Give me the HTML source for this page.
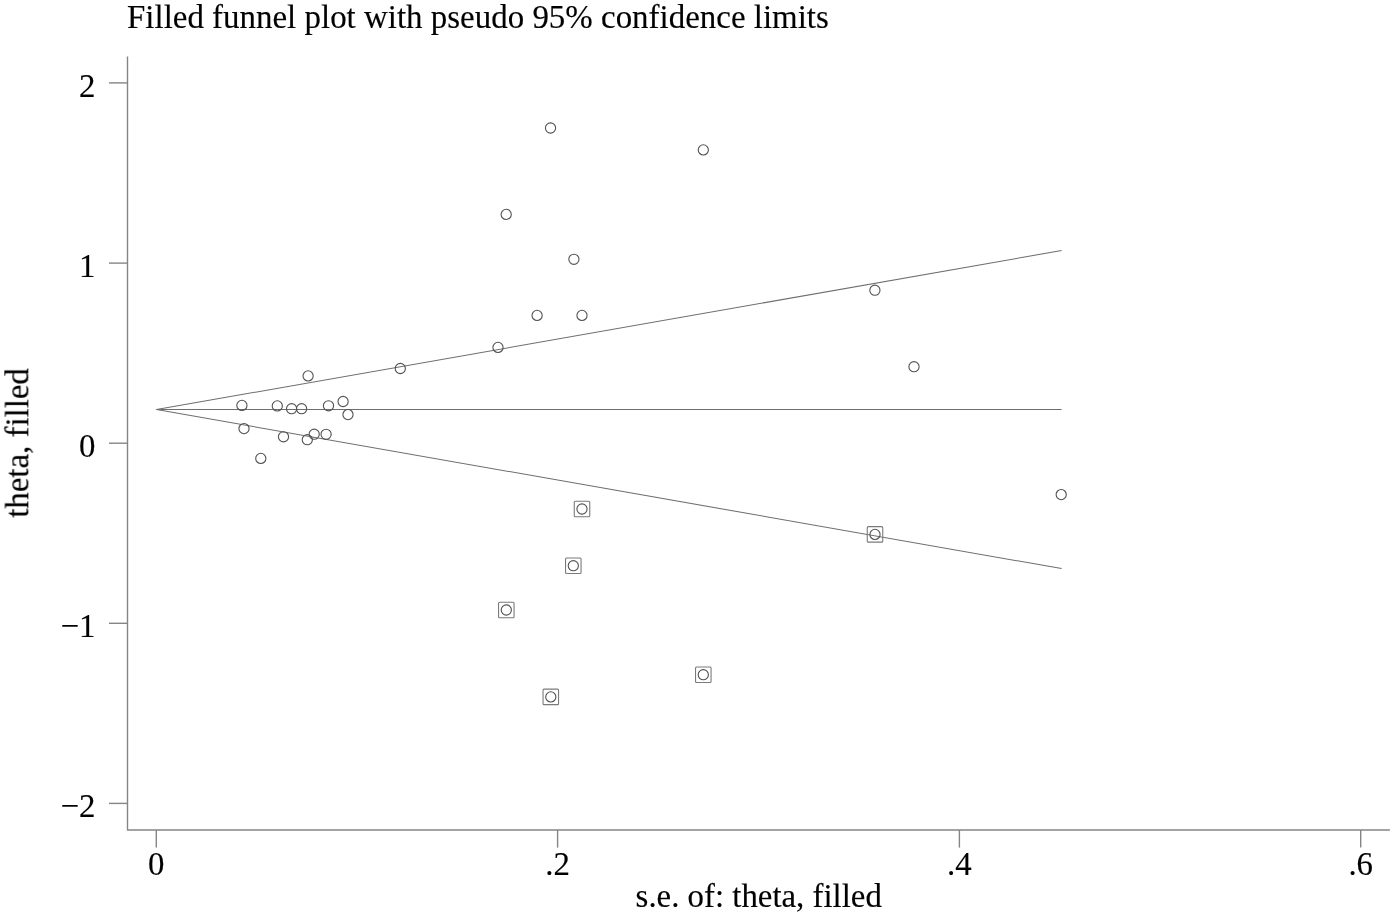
<!DOCTYPE html>
<html><head><meta charset="utf-8"><title>Filled funnel plot</title>
<style>
html,body{margin:0;padding:0;background:#fff;}
body{width:1395px;height:918px;overflow:hidden;}
svg{display:block;}
text{font-family:"Liberation Serif",serif;font-size:32.85px;fill:#000;stroke:#000;stroke-width:0.15px;}
circle{fill:none;stroke:#525252;stroke-width:1.1;}
rect.sq{fill:none;stroke:#7a7a7a;stroke-width:1.1;}
</style></head><body>
<svg width="1395" height="918" viewBox="0 0 1395 918">
<rect width="1395" height="918" fill="#fff"/>
<path d="M127.5,56.4 V830 H1389.9" fill="none" stroke="#858585" stroke-width="1.4" stroke-linejoin="round"/>
<line x1="109" y1="82.9" x2="127.5" y2="82.9" stroke="#858585" stroke-width="1.4"/>
<line x1="109" y1="263.1" x2="127.5" y2="263.1" stroke="#858585" stroke-width="1.4"/>
<line x1="109" y1="443.2" x2="127.5" y2="443.2" stroke="#858585" stroke-width="1.4"/>
<line x1="109" y1="623.3" x2="127.5" y2="623.3" stroke="#858585" stroke-width="1.4"/>
<line x1="109" y1="803.4" x2="127.5" y2="803.4" stroke="#858585" stroke-width="1.4"/>
<line x1="156.3" y1="830" x2="156.3" y2="847.6" stroke="#858585" stroke-width="1.4"/>
<line x1="557.6" y1="830" x2="557.6" y2="847.6" stroke="#858585" stroke-width="1.4"/>
<line x1="959.4" y1="830" x2="959.4" y2="847.6" stroke="#858585" stroke-width="1.4"/>
<line x1="1360.7" y1="830" x2="1360.7" y2="847.6" stroke="#858585" stroke-width="1.4"/>
<line x1="156.5" y1="409.55" x2="1061.6" y2="409.55" stroke="#6e6e6e" stroke-width="1.05"/>
<line x1="156.5" y1="409.55" x2="1061.6" y2="250.50" stroke="#6e6e6e" stroke-width="1.05"/>
<line x1="156.5" y1="409.55" x2="1061.6" y2="568.60" stroke="#6e6e6e" stroke-width="1.05"/>
<circle cx="550.5" cy="128.0" r="5.1"/>
<circle cx="703.3" cy="149.9" r="5.1"/>
<circle cx="506.2" cy="214.4" r="5.1"/>
<circle cx="573.9" cy="259.3" r="5.1"/>
<circle cx="874.9" cy="290.2" r="5.1"/>
<circle cx="537.1" cy="315.4" r="5.1"/>
<circle cx="582.0" cy="315.4" r="5.1"/>
<circle cx="498.0" cy="347.4" r="5.1"/>
<circle cx="400.3" cy="368.5" r="5.1"/>
<circle cx="914.0" cy="366.7" r="5.1"/>
<circle cx="308.1" cy="375.9" r="5.1"/>
<circle cx="241.9" cy="405.4" r="5.1"/>
<circle cx="277.3" cy="405.9" r="5.1"/>
<circle cx="291.6" cy="408.7" r="5.1"/>
<circle cx="301.6" cy="408.7" r="5.1"/>
<circle cx="328.5" cy="405.8" r="5.1"/>
<circle cx="343.1" cy="401.5" r="5.1"/>
<circle cx="348.0" cy="414.6" r="5.1"/>
<circle cx="244.0" cy="428.6" r="5.1"/>
<circle cx="283.5" cy="436.8" r="5.1"/>
<circle cx="307.3" cy="439.7" r="5.1"/>
<circle cx="314.2" cy="434.2" r="5.1"/>
<circle cx="326.1" cy="434.3" r="5.1"/>
<circle cx="260.8" cy="458.4" r="5.1"/>
<circle cx="1061.2" cy="494.6" r="5.1"/>
<rect class="sq" x="574.25" y="501.25" width="15.5" height="15.5" rx="1"/>
<circle cx="582.0" cy="509.0" r="5.1"/>
<rect class="sq" x="867.25" y="526.65" width="15.5" height="15.5" rx="1"/>
<circle cx="875.0" cy="534.4" r="5.1"/>
<rect class="sq" x="565.55" y="557.95" width="15.5" height="15.5" rx="1"/>
<circle cx="573.3" cy="565.7" r="5.1"/>
<rect class="sq" x="498.55" y="602.25" width="15.5" height="15.5" rx="1"/>
<circle cx="506.3" cy="610.0" r="5.1"/>
<rect class="sq" x="695.55" y="666.95" width="15.5" height="15.5" rx="1"/>
<circle cx="703.3" cy="674.7" r="5.1"/>
<rect class="sq" x="543.05" y="689.15" width="15.5" height="15.5" rx="1"/>
<circle cx="550.8" cy="696.9" r="5.1"/>
<g opacity="0.998">
<text transform="translate(95.5,97.0) scale(1,1.025)" text-anchor="end">2</text>
<text transform="translate(95.5,277.2) scale(1,1.025)" text-anchor="end">1</text>
<text transform="translate(95.5,457.3) scale(1,1.025)" text-anchor="end">0</text>
<text transform="translate(95.5,637.3) scale(1,1.025)" text-anchor="end">−1</text>
<text transform="translate(95.5,816.7) scale(1,1.025)" text-anchor="end">−2</text>
<text transform="translate(156.3,874.7) scale(1,1.025)" text-anchor="middle">0</text>
<text transform="translate(557.6,874.7) scale(1,1.025)" text-anchor="middle">.2</text>
<text transform="translate(959.4,874.7) scale(1,1.025)" text-anchor="middle">.4</text>
<text transform="translate(1360.7,874.7) scale(1,1.025)" text-anchor="middle">.6</text>
<text style="font-size:32.95px" transform="translate(127,28.1) scale(1,1.025)">Filled funnel plot with pseudo 95% confidence limits</text>
<text transform="translate(758.7,906.5) scale(1,1.025)" text-anchor="middle">s.e. of: theta, filled</text>
<text transform="translate(28.1,442.9) rotate(-90) scale(1,1.025)" text-anchor="middle">theta, filled</text>
</g>
</svg>
</body></html>
